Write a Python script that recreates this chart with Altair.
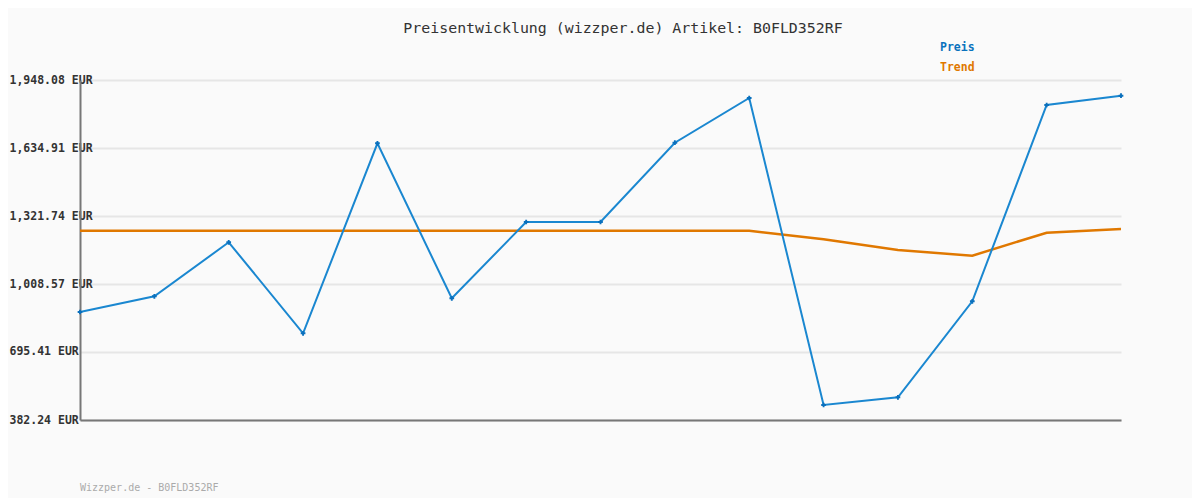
import altair as alt
import pandas as pd

idx = list(range(15))
preis = [879.6, 951.9, 1200.6, 781.5, 1656.5, 942.7, 1294.1, 1294.1, 1659.3,
         1865.2, 451.3, 486.8, 928.9, 1832.9, 1875.8]
trend = [1254.0] * 10 + [1214.4, 1165.2, 1138.9, 1244.8, 1261.8]
y_ticks = [382.24, 695.41, 1008.57, 1321.74, 1634.91, 1948.08]
title_text = "Preisentwicklung (wizzper.de) Artikel: B0FLD352RF"
footer_text = "Wizzper.de - B0FLD352RF"

df = pd.DataFrame({"i": idx, "Preis": preis, "Trend": trend})

FONT = "DejaVu Sans Mono"
BLUE = "#1a87d0"
BLUE_D = "#0a70bd"
ORANGE = "#e07800"

def fmt(v):
    return f"{v:,.2f} EUR"

label_expr = " : ".join(
    [f"datum.value == {v} ? '{fmt(v)}'" for v in y_ticks]) + " : ''"

x = alt.X("i:Q", scale=alt.Scale(domain=[0, 14], nice=False, zero=False),
          axis=alt.Axis(title=None, labels=False, ticks=False, grid=False,
                        domainColor="#777777", domainWidth=2))
yscale = alt.Scale(domain=[382.24, 1948.08], nice=False, zero=False)

base = alt.Chart(df)

trend_line = base.mark_line(color=ORANGE, strokeWidth=2.5).encode(
    x=x,
    y=alt.Y("Trend:Q", scale=yscale,
            axis=alt.Axis(title=None, values=y_ticks, labelExpr=label_expr,
                          ticks=False, labelAlign="left", labelPadding=71,
                          labelBaseline="middle", labelFont=FONT,
                          labelFontSize=11.5, labelFontWeight="bold",
                          labelColor="#333333",
                          gridColor="#e6e6e6", gridWidth=2,
                          domainColor="#777777", domainWidth=2)),
)
preis_line = base.mark_line(color=BLUE, strokeWidth=2).encode(
    x="i:Q", y=alt.Y("Preis:Q", scale=yscale))
preis_pts = base.mark_point(shape="cross", filled=True, color=BLUE_D,
                            size=22, opacity=1).encode(
    x="i:Q", y=alt.Y("Preis:Q", scale=yscale))

def txt(t, xv, yv, size, color, weight="normal", align="left"):
    return alt.Chart(pd.DataFrame({"t": [t]})).mark_text(
        font=FONT, fontSize=size, color=color, fontWeight=weight,
        align=align, baseline="middle").encode(
        text="t:N", x=alt.value(xv), y=alt.value(yv))

title = txt(title_text, 543, -51, 14.9, "#333333", align="center")
leg1 = txt("Preis", 860, -32, 11.5, "#0a72bd", weight="bold")
leg2 = txt("Trend", 860, -12, 11.5, ORANGE, weight="bold")
footer = txt(footer_text, 0, 408, 10, "#aaaaaa")

chart = alt.layer(trend_line, preis_line, preis_pts, title, leg1, leg2, footer).properties(
    width=1041, height=340,
    autosize=alt.AutoSizeParams(type="none"),
    padding={"left": 72, "top": 72, "right": 71, "bottom": 78},
    background="#fafafa",
).configure_view(stroke=None)

chart.save("out.html", embed_options={"renderer": "svg", "actions": False})
